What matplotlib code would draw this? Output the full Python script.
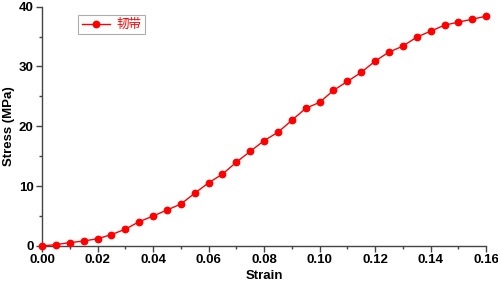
import matplotlib.pyplot as plt
from matplotlib.ticker import MultipleLocator

strain = [0.000, 0.005, 0.010, 0.015, 0.020, 0.025, 0.030, 0.035, 0.040, 0.045,
          0.050, 0.055, 0.060, 0.065, 0.070, 0.075, 0.080, 0.085, 0.090, 0.095,
          0.100, 0.105, 0.110, 0.115, 0.120, 0.125, 0.130, 0.135, 0.140, 0.145,
          0.150, 0.155, 0.160]
stress = [0.0, 0.22, 0.55, 0.83, 1.2, 1.9, 2.8, 4.05, 5.0, 6.0,
          7.0, 8.8, 10.55, 12.0, 14.0, 15.8, 17.6, 19.0, 21.0, 23.0,
          24.0, 26.0, 27.5, 29.0, 30.9, 32.4, 33.4, 34.9, 35.9, 36.9,
          37.4, 37.9, 38.4]
label = "韧带"

plt.rcParams['font.family'] = ['Liberation Sans', 'Noto Sans CJK SC', 'DejaVu Sans']

fig = plt.figure(figsize=(4.98, 2.87), dpi=100)
ax = fig.add_axes([0.0843, 0.143, 0.892, 0.834])

ax.plot(strain, stress, color='#ff0000', linewidth=1.0, marker='o',
        markersize=4.6, clip_on=False, label=label, zorder=3)

ax.set_xlim(0, 0.16)
ax.set_ylim(0, 40)
ax.xaxis.set_major_locator(MultipleLocator(0.02))
ax.xaxis.set_minor_locator(MultipleLocator(0.01))
ax.yaxis.set_major_locator(MultipleLocator(10))
ax.yaxis.set_minor_locator(MultipleLocator(5))
ax.xaxis.set_major_formatter(plt.FormatStrFormatter('%.2f'))

for side in ['top', 'right']:
    ax.spines[side].set_visible(False)
for side in ['left', 'bottom']:
    ax.spines[side].set_color('#444444')
    ax.spines[side].set_linewidth(1.0)

ax.tick_params(which='major', direction='out', length=4, width=1.0, color='#444444',
               labelsize=9.5, pad=2)
ax.tick_params(which='minor', direction='out', length=2.5, width=1.0, color='#444444')
for t in ax.get_xticklabels() + ax.get_yticklabels():
    t.set_fontweight('bold')

ax.set_xlabel("Strain", fontsize=9.5, fontweight='bold', labelpad=3)
ax.set_ylabel("Stress (MPa)", fontsize=9.5, fontweight='bold', labelpad=3)

leg = ax.legend(loc='upper left', bbox_to_anchor=(0.068, 0.99),
                frameon=True, fancybox=False, edgecolor='#999999',
                handlelength=2.3, borderpad=0.25, handletextpad=0.5,
                prop={'family': ['Noto Sans CJK SC'], 'size': 9})
leg.get_frame().set_linewidth(0.8)
for txt in leg.get_texts():
    txt.set_color('#ff0000')

fig.savefig('out.png', dpi=100)
